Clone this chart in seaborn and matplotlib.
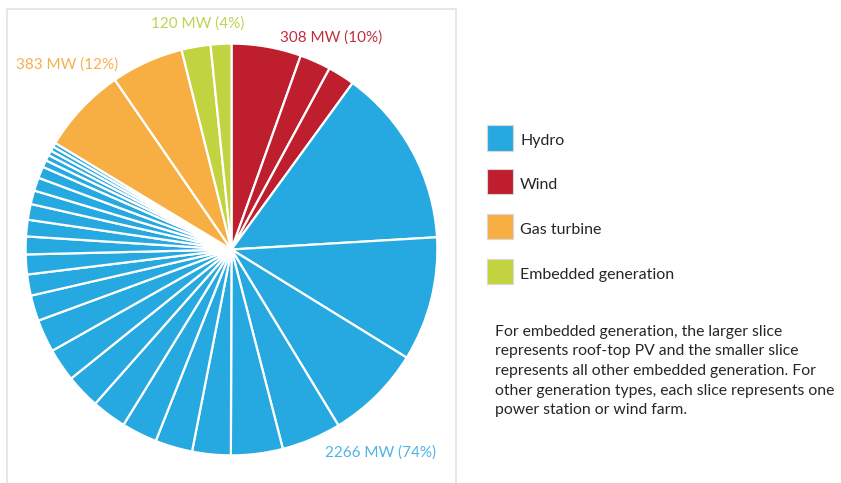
import matplotlib
matplotlib.use("Agg")
import matplotlib.pyplot as plt
import seaborn as sns
from matplotlib.patches import Rectangle

# ---- data ----
categories = ["Hydro", "Wind", "Gas turbine", "Embedded generation"]
category_totals = [2266, 308, 383, 120]
category_pct = [74, 10, 12, 4]
wind_mw = [168, 75, 65]
hydro_mw = [432, 300, 231, 144, 125, 93, 90, 86, 84, 83, 80, 79, 62, 51, 48, 43,
            40, 38, 33, 32, 28, 17, 14, 12, 11, 10]
gas_mw = [208, 175]
embedded_mw = [70, 50]
colors = {"Hydro": "#26A9E0", "Wind": "#BE1E2D",
          "Gas turbine": "#F7AE42", "Embedded generation": "#C2D340"}
label_colors = {"Hydro": "#4FB3E6", "Wind": "#C0303C",
                "Gas turbine": "#F6B050", "Embedded generation": "#C0D350"}
note = ("For embedded generation, the larger slice\n"
        "represents roof-top PV and the smaller slice\n"
        "represents all other embedded generation. For\n"
        "other generation types, each slice represents one\n"
        "power station or wind farm.")

sns.set_theme(style="white")
plt.rcParams["font.family"] = ["Lato", "DejaVu Sans"]

W, H = 841, 483
fig = plt.figure(figsize=(W / 100, H / 100), dpi=100)

def fx(x):
    return x / W

def fy(y):
    return 1 - y / H

# frame around pie panel
fig.patches.append(Rectangle((fx(7), fy(490)), fx(456) - fx(7), fy(9) - fy(490),
                             transform=fig.transFigure, fill=False,
                             edgecolor="#E3E3E3", linewidth=1.2))

# pie in clockwise order starting at top: wind, hydro, gas, embedded
order = [("Wind", wind_mw), ("Hydro", hydro_mw),
         ("Gas turbine", gas_mw), ("Embedded generation", embedded_mw)]
values, cols = [], []
for name, vals in order:
    values.extend(vals)
    cols.extend([colors[name]] * len(vals))

cx, cy, r = 231.5, 249.5, 206.5
ax = fig.add_axes([fx(cx - r), fy(cy + r), (2 * r) / W, (2 * r) / H])
ax.pie(values, colors=cols, startangle=90, counterclock=False, radius=1,
       wedgeprops=dict(edgecolor="white", linewidth=1.6))
ax.set_xlim(-1.003, 1.003)
ax.set_ylim(-1.003, 1.003)
ax.set_aspect("equal")
ax.axis("off")

# value labels
lab_pos = {"Embedded generation": (198, 24), "Wind": (331, 38),
           "Gas turbine": (67, 65), "Hydro": (381, 453)}
for name, tot, pct in zip(categories, category_totals, category_pct):
    x, y = lab_pos[name]
    fig.text(fx(x), fy(y), f"{tot} MW ({pct}%)", color=label_colors[name],
             fontsize=11, ha="center", va="center")

# legend
leg_y = [138, 181.5, 226.5, 271]
for name, y in zip(categories, leg_y):
    fig.patches.append(Rectangle((fx(487), fy(y + 12.5)), 26 / W, 25 / H,
                                 transform=fig.transFigure,
                                 facecolor=colors[name], edgecolor="#D8D8D8",
                                 linewidth=0.8))
    fig.text(fx(520), fy(y + 3.5), name, fontsize=11.5, color="#262626",
             ha="left", va="center")

fig.text(fx(495), fy(325), note, fontsize=11.3, color="#262626",
         ha="left", va="top", linespacing=1.5)

fig.savefig("out.png", dpi=100)
